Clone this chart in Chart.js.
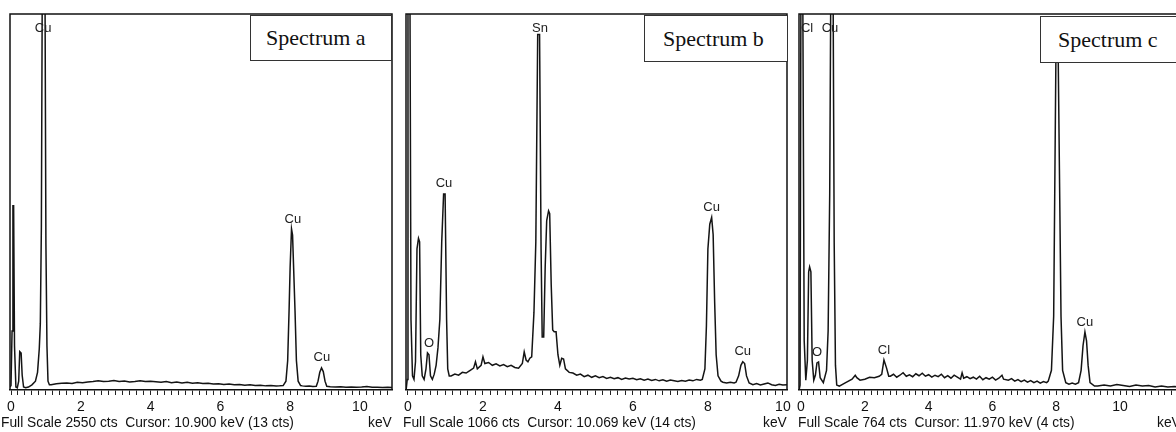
<!DOCTYPE html>
<html><head><meta charset="utf-8">
<script src="https://cdn.jsdelivr.net/npm/chart.js@4.4.1/dist/chart.umd.min.js"></script>
<style>
html,body{margin:0;padding:0;width:1176px;height:432px;overflow:hidden;background:#fff;position:relative;}
canvas{position:absolute;top:0;}
.box{position:absolute;background:#fff;border:1px solid #333;font-family:"Liberation Serif","Times New Roman",serif;font-size:22px;color:#111;box-sizing:border-box;white-space:nowrap;}
.foot{position:absolute;top:415px;font-family:"Liberation Sans",Arial,sans-serif;font-size:13.8px;color:#111;white-space:nowrap;line-height:16px;}
</style></head><body>
<canvas id="ca" width="402" height="432" style="left:0px"></canvas>
<canvas id="cb" width="401" height="432" style="left:396px"></canvas>
<canvas id="cc" width="401" height="432" style="left:789px"></canvas>

<div class="box" style="left:250px;top:15px;width:142px;height:46px;line-height:44px;padding-left:15px">Spectrum a</div>
<div class="box" style="left:644px;top:15px;width:144px;height:47px;line-height:45px;padding-left:18px">Spectrum b</div>
<div class="box" style="left:1040px;top:16px;width:150px;height:47px;line-height:45px;padding-left:17px">Spectrum c</div>

<div class="foot" style="left:1px">Full Scale 2550 cts&nbsp; Cursor: 10.900 keV (13 cts)</div>
<div class="foot" style="left:368px">keV</div>
<div class="foot" style="left:403px">Full Scale 1066 cts&nbsp; Cursor: 10.069 keV (14 cts)</div>
<div class="foot" style="left:763px">keV</div>
<div class="foot" style="left:798px">Full Scale 764 cts&nbsp; Cursor: 11.970 keV (4 cts)</div>
<div class="foot" style="left:1157px">keV</div>

<script>
// ---- Data (energy keV, counts) ----
const fullScaleA = 2550, fullScaleB = 1066, fullScaleC = 764;
const tickLabels = [0, 2, 4, 6, 8, 10];

const spectrumA = [
 [-0.03,20],[0,30],[0.03,400],[0.055,1250],[0.075,1250],[0.1,300],[0.14,20],[0.18,15],[0.22,60],[0.25,260],
 [0.29,250],[0.32,100],[0.36,20],[0.42,15],[0.5,20],[0.6,35],[0.7,60],[0.76,120],[0.81,280],[0.84,450],
 [0.87,1100],[0.9,3000],[0.97,3000],[1.0,1000],[1.03,300],[1.06,60],[1.1,35],
 [1.15,35],[1.3,42],[1.45,45],[1.6,48],[1.75,44],[1.9,52],[2.05,50],[2.2,55],[2.35,58],[2.5,62],[2.65,57],
 [2.8,60],[2.95,64],[3.1,58],[3.25,61],[3.4,55],[3.55,58],[3.7,62],[3.85,57],[4.0,60],[4.15,56],[4.3,52],
 [4.45,57],[4.6,50],[4.75,54],[4.9,48],[5.05,52],[5.2,46],[5.35,49],[5.5,44],[5.65,46],[5.8,40],[5.95,42],
 [6.1,38],[6.25,40],[6.4,35],[6.55,37],[6.7,33],[6.85,35],[7.0,30],[7.15,32],[7.3,28],[7.45,30],[7.6,27],[7.7,28],
 [7.8,30],[7.88,60],[7.93,200],[7.97,540],[8.0,830],[8.04,1092],[8.07,1050],[8.1,830],[8.14,540],[8.18,200],
 [8.23,60],[8.3,30],[8.35,28],[8.45,25],[8.55,27],[8.65,24],[8.75,25],[8.8,60],[8.85,120],[8.9,150],[8.95,125],
 [9.0,60],[9.05,25],[9.15,22],[9.3,20],[9.45,22],[9.6,19],[9.75,21],[9.9,18],[10.05,20],[10.2,24],[10.35,18],
 [10.5,19],[10.65,17],[10.8,18],[10.92,17]
];

const spectrumB = [
 [-0.05,0],[-0.02,30],[0,1200],[0.05,1200],[0.08,200],[0.12,40],[0.16,30],[0.2,80],[0.24,400],[0.28,430],
 [0.31,420],[0.34,100],[0.38,40],[0.43,30],[0.48,60],[0.52,105],[0.56,100],[0.6,40],[0.65,30],[0.7,45],
 [0.75,70],[0.8,120],[0.85,200],[0.9,420],[0.95,556],[0.99,556],[1.03,200],[1.06,60],[1.1,40],
 [1.15,40],[1.25,45],[1.35,42],[1.45,50],[1.55,48],[1.65,55],[1.75,62],[1.8,80],[1.85,60],[1.95,70],[2.0,94],
 [2.05,75],[2.15,78],[2.25,70],[2.35,74],[2.45,68],[2.55,72],[2.65,66],[2.75,70],[2.85,64],[2.95,62],[3.05,75],
 [3.1,108],[3.15,85],[3.2,80],[3.25,90],[3.3,94],[3.36,220],[3.41,420],[3.46,1008],[3.51,1008],[3.55,400],
 [3.58,150],[3.62,150],[3.66,350],[3.7,480],[3.75,508],[3.78,500],[3.82,300],[3.86,170],[3.9,165],[3.95,165],
 [4.0,100],[4.05,70],[4.1,90],[4.15,88],[4.2,60],[4.3,50],[4.4,48],[4.5,42],[4.6,45],[4.7,38],[4.8,42],[4.9,36],
 [5.0,40],[5.1,35],[5.2,38],[5.3,33],[5.4,36],[5.5,32],[5.6,35],[5.7,30],[5.8,34],[5.9,31],[6.0,33],[6.1,29],
 [6.2,32],[6.3,28],[6.4,31],[6.5,27],[6.6,30],[6.7,26],[6.8,29],[6.9,25],[7.0,28],[7.1,26],[7.2,24],[7.3,27],
 [7.4,25],[7.5,28],[7.6,26],[7.7,30],[7.8,28],[7.85,30],[7.92,60],[7.96,180],[8.0,400],[8.05,470],[8.1,489],
 [8.14,440],[8.18,250],[8.22,100],[8.27,40],[8.35,25],[8.4,22],[8.5,20],[8.6,22],[8.7,20],[8.75,22],[8.82,40],
 [8.88,70],[8.93,80],[8.98,75],[9.03,40],[9.1,20],[9.2,15],[9.3,18],[9.4,14],[9.5,17],[9.6,20],[9.7,15],
 [9.8,13],[9.9,16],[10.0,14],[10.11,15]
];

const spectrumC = [
 [-0.06,0],[-0.03,10],[0,900],[0.05,900],[0.1,100],[0.15,20],[0.2,60],[0.24,240],[0.27,250],[0.31,240],
 [0.35,60],[0.4,20],[0.45,30],[0.5,55],[0.55,57],[0.6,25],[0.7,15],[0.8,40],[0.85,120],[0.9,400],[0.94,900],
 [1.0,900],[1.04,300],[1.08,50],[1.12,10],[1.2,8],[1.4,15],[1.6,22],[1.7,30],[1.75,25],[1.85,20],[2.0,22],
 [2.15,26],[2.3,25],[2.45,28],[2.53,32],[2.6,61],[2.68,45],[2.75,28],[2.8,28],[2.9,32],[3.0,26],[3.1,30],
 [3.2,35],[3.3,28],[3.4,31],[3.5,27],[3.6,33],[3.7,29],[3.8,34],[3.9,28],[4.0,31],[4.1,26],[4.2,30],[4.3,27],
 [4.4,32],[4.5,25],[4.6,29],[4.7,24],[4.8,30],[4.9,26],[5.0,22],[5.05,35],[5.1,24],[5.2,27],[5.3,23],[5.4,26],
 [5.5,22],[5.6,28],[5.7,21],[5.8,25],[5.9,22],[6.0,26],[6.1,20],[6.2,24],[6.3,30],[6.35,22],[6.5,20],[6.6,23],
 [6.7,18],[6.8,21],[6.9,17],[7.0,20],[7.1,16],[7.2,19],[7.3,15],[7.4,18],[7.5,14],[7.6,17],[7.7,15],[7.75,18],
 [7.85,40],[7.92,150],[7.96,450],[8.0,750],[8.05,750],[8.1,450],[8.15,150],[8.2,40],[8.3,15],[8.4,12],[8.5,14],
 [8.6,12],[8.7,15],[8.78,40],[8.84,90],[8.9,118],[8.95,100],[9.0,50],[9.06,15],[9.2,8],[9.3,8],[9.5,10],[9.7,8],
 [9.9,11],[10.1,9],[10.3,7],[10.5,10],[10.7,8],[10.9,9],[11.1,6],[11.3,8],[11.5,6],[11.7,7],[11.88,6]
];

const peakLabelsA = [
 {text:'Cu', kev:0.92, cts:3000},{text:'Cu', kev:8.08, cts:1092},{text:'Cu', kev:8.91, cts:150}
];
const peakLabelsB = [
 {text:'O', kev:0.56, cts:105},{text:'Cu', kev:0.96, cts:556},{text:'Sn', kev:3.52, cts:1008},
 {text:'Cu', kev:8.1, cts:489},{text:'Cu', kev:8.93, cts:80}
];
const peakLabelsC = [
 {text:'Cl', kev:0.19, cts:900},{text:'Cu', kev:0.91, cts:900},{text:'O', kev:0.5, cts:57},
 {text:'Cl', kev:2.6, cts:61},{text:'Cu', kev:8.9, cts:118}
];

// ---- Rendering ----
const FONT = '"Liberation Sans", Arial, sans-serif';

const framePlugin = {
  id: 'frame',
  afterDraw(chart) {
    const {ctx, chartArea: a} = chart;
    ctx.save();
    ctx.strokeStyle = '#111';
    ctx.lineWidth = 1.5;
    ctx.beginPath();
    ctx.moveTo(a.left, a.bottom);
    ctx.lineTo(a.left, a.top);
    ctx.lineTo(a.right, a.top);
    ctx.lineTo(a.right, a.bottom);
    ctx.stroke();
    ctx.restore();
  }
};

const peakLabelPlugin = {
  id: 'peakLabels',
  afterDatasetsDraw(chart, args, opts) {
    const {ctx, chartArea, scales: {x, y}} = chart;
    ctx.save();
    ctx.font = '13px ' + FONT;
    ctx.fillStyle = '#222';
    ctx.textAlign = 'center';
    ctx.textBaseline = 'middle';
    (opts.items || []).forEach(it => {
      const px = x.getPixelForValue(it.kev);
      let py = y.getPixelForValue(it.cts) - 10;
      py = Math.max(py, chartArea.top + 14);
      ctx.fillText(it.text, px, py);
    });
    ctx.restore();
  }
};

function makeChart(id, spectrum, fullScale, xmin, xmax, labels) {
  const minor = [];
  for (let i = 0; i <= Math.floor(xmax * 5 + 1e-9); i++) minor.push(i / 5);
  return new Chart(document.getElementById(id), {
    type: 'scatter',
    data: {
      datasets: [{
        data: spectrum.map(p => ({x: p[0], y: p[1]})),
        showLine: true,
        borderColor: '#141414',
        borderWidth: 1.5,
        pointRadius: 0,
        tension: 0
      }]
    },
    options: {
      responsive: false,
      animation: false,
      devicePixelRatio: 1,
      layout: {padding: {left: 10, right: 10, top: 14, bottom: 0}},
      plugins: {legend: {display: false}, tooltip: {enabled: false}, peakLabels: {items: labels}},
      scales: {
        x: {
          type: 'linear', min: xmin, max: xmax,
          afterBuildTicks: s => { s.ticks = minor.map(v => ({value: v})); },
          afterFit: s => { s.height = 42; },
          ticks: {
            autoSkip: false, maxRotation: 0, minRotation: 0, padding: 4,
            color: '#111', font: {family: FONT, size: 14},
            callback: v => {
              const r = Math.round(v);
              return (Math.abs(v - r) < 1e-6 && tickLabels.includes(r)) ? String(r) : '';
            }
          },
          grid: {drawOnChartArea: false, drawTicks: true, tickLength: 5, color: '#222', lineWidth: 1},
          border: {display: true, color: '#111', width: 1.5}
        },
        y: {display: false, min: 0, max: fullScale}
      }
    },
    plugins: [framePlugin, peakLabelPlugin]
  });
}

makeChart('ca', spectrumA, fullScaleA, -0.029, 10.92, peakLabelsA);
makeChart('cb', spectrumB, fullScaleB, -0.053, 10.11, peakLabelsB);
makeChart('cc', spectrumC, fullScaleC, -0.063, 11.88, peakLabelsC);
</script>
</body></html>
